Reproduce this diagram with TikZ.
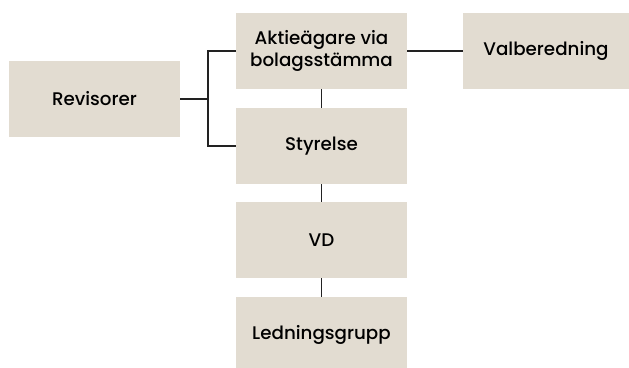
\documentclass[tikz,border=0pt]{standalone}
\usepackage{fontspec}
\setmainfont{Poppins}[UprightFont={* Medium}]
\usetikzlibrary{positioning}
\definecolor{orgBeige}{HTML}{E2DCD1}
\definecolor{orgLine}{HTML}{222222}

\begin{document}
\begin{tikzpicture}[
      box/.style={rectangle, fill=orgBeige, draw=none,
                  minimum width=4.275cm, minimum height=1.9cm,
                  align=center, font=\fontsize{13}{16}\selectfont, inner sep=2pt},
      link/.style={draw=orgLine, line width=0.8pt}
    ]
    \useasboundingbox (0,0) rectangle (15.725,9.175);
    \node[box] (rev) at (2.3625,6.7)  {Revisorer};
    \node[box] (akt) at (8.0375,7.9)  {Aktieägare via\\bolagsstämma};
    \node[box, minimum width=4.15cm] (val) at (13.65,7.9) {Valberedning};
    \node[box] (sty) at (8.0375,5.525) {Styrelse};
    \node[box] (vd)  at (8.0375,3.175) {VD};
    \node[box] (led) at (8.0375,0.8)  {Ledningsgrupp};

    \coordinate (split) at (5.2,6.7);
    \draw[link] (rev.east) -- (split);
    \draw[link] (akt.west) -| (split) |- (sty.west);
    \draw[link] (akt) -- (val);
    \draw[link] (akt) -- (sty); \draw[link] (sty) -- (vd); \draw[link] (vd) -- (led);
  \end{tikzpicture}
\end{document}
